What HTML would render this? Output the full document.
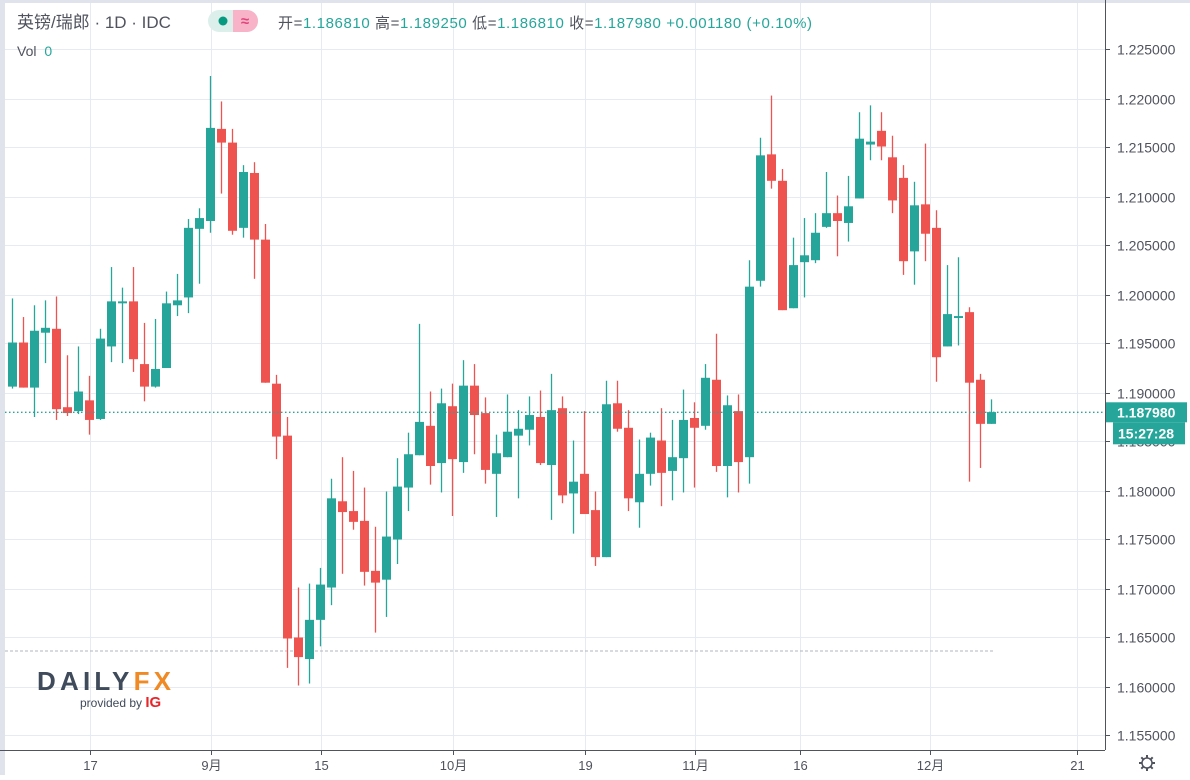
<!DOCTYPE html>
<html><head><meta charset="utf-8">
<style>
html,body{margin:0;padding:0;background:#fff;}
body{width:1190px;height:775px;overflow:hidden;position:relative;font-family:"Liberation Sans","Noto Sans CJK SC",sans-serif;}
svg text{font-family:"Liberation Sans","Noto Sans CJK SC",sans-serif;}
</style></head>
<body>
<svg id="chart" width="1190" height="775" viewBox="0 0 1190 775" xmlns="http://www.w3.org/2000/svg">
  <rect x="0" y="0" width="1190" height="775" fill="#fff"/>
  <rect x="0" y="0" width="5" height="775" fill="#e0e3eb"/>
  <rect x="0" y="0" width="1190" height="3" fill="#e0e3eb"/>
  <g id="grid"></g>
  <line x1="5" y1="651" x2="995" y2="651" stroke="#b2b5be" stroke-width="1" stroke-dasharray="3,2"/>
  <g id="candles"></g>
  <line id="lastline" x1="5" x2="1105" stroke="#26a69a" stroke-width="1.3" stroke-dasharray="1.5,2.5"/>
  <line x1="1105.5" y1="0" x2="1105.5" y2="750" stroke="#50535e" stroke-width="1"/>
  <line x1="0" y1="750.5" x2="1105" y2="750.5" stroke="#50535e" stroke-width="1"/>
  <g id="yaxis"></g>
  <g id="xaxis"></g>
  <g id="lastlabel"></g>
  <g transform="translate(1147,763)">
    <circle r="5" fill="none" stroke="#50535e" stroke-width="1.5"/>
    <g stroke="#50535e" stroke-width="2">
      <line x1="0" y1="-8" x2="0" y2="-5"/><line x1="0" y1="5" x2="0" y2="8"/>
      <line x1="-8" y1="0" x2="-5" y2="0"/><line x1="5" y1="0" x2="8" y2="0"/>
      <line x1="-5.7" y1="-5.7" x2="-3.5" y2="-3.5"/><line x1="3.5" y1="3.5" x2="5.7" y2="5.7"/>
      <line x1="-5.7" y1="5.7" x2="-3.5" y2="3.5"/><line x1="3.5" y1="-3.5" x2="5.7" y2="-5.7"/>
    </g>
  </g>
  <!-- header -->
  <text x="17" y="28" font-size="17" fill="#50535e">英镑/瑞郎 · 1D · IDC</text>
  <g>
    <rect x="208" y="10" width="50" height="22" rx="11" fill="#dcefeb"/>
    <path d="M233 10 h14 a11 11 0 0 1 0 22 h-14 z" fill="#f8b3c8"/>
    <circle cx="223" cy="21" r="4.5" fill="#089981"/>
    <text x="245" y="26" font-size="15" fill="#e0457b" text-anchor="middle" font-weight="bold">≈</text>
  </g>
  <text x="278" y="28" font-size="15" fill="#50535e" textLength="534" lengthAdjust="spacing">开=<tspan fill="#26a69a">1.186810</tspan> 高=<tspan fill="#26a69a">1.189250</tspan> 低=<tspan fill="#26a69a">1.186810</tspan> 收=<tspan fill="#26a69a">1.187980</tspan> <tspan fill="#26a69a">+0.001180 (+0.10%)</tspan></text>
  <text x="17" y="56" font-size="14" fill="#50535e">Vol <tspan dx="4" fill="#26a69a">0</tspan></text>
  <!-- logo -->
  <g>
    <text x="37" y="690" font-size="26" font-weight="bold" fill="#3f4a5a" textLength="134" lengthAdjust="spacing">DAILY<tspan fill="#f08a24">FX</tspan></text>
    <text x="80" y="707" font-size="12" fill="#3f4a5a">provided by <tspan font-weight="bold" fill="#e8262a" font-size="15">IG</tspan></text>
  </g>
</svg>
<script>
const opens=[1.1906,1.1951,1.1905,1.1961,1.1965,1.1885,1.1881,1.1892,1.1873,1.1947,1.1991,1.1993,1.1929,1.1906,1.1925,1.1989,1.1997,1.2067,1.2075,1.2169,1.2155,1.2068,1.2124,1.2056,1.1909,1.1856,1.1650,1.1628,1.1668,1.1701,1.1789,1.1779,1.1769,1.1718,1.1709,1.1750,1.1803,1.1836,1.1866,1.1828,1.1886,1.1829,1.1907,1.1879,1.1817,1.1834,1.1856,1.1862,1.1875,1.1826,1.1884,1.1797,1.1817,1.1780,1.1732,1.1889,1.1864,1.1788,1.1817,1.1851,1.1820,1.1833,1.1874,1.1866,1.1913,1.1825,1.1881,1.1834,1.2014,1.2143,1.2116,1.1986,1.2033,1.2035,1.2069,1.2083,1.2073,1.2098,1.2153,1.2167,1.2140,1.2119,1.2044,1.2092,1.2068,1.1947,1.1976,1.1982,1.1913,1.1868];
const highs=[1.1996,1.1977,1.1989,1.1994,1.1998,1.1938,1.1947,1.1917,1.1965,1.2028,1.2007,1.2028,1.1971,1.1975,1.2003,1.2021,1.2077,1.2088,1.2223,1.2197,1.2169,1.2132,1.2135,1.2072,1.1918,1.1875,1.1701,1.1705,1.1721,1.1812,1.1834,1.1820,1.1803,1.1763,1.1799,1.1833,1.1859,1.1970,1.1901,1.1904,1.1909,1.1933,1.1929,1.1895,1.1857,1.1898,1.1882,1.1896,1.1902,1.1919,1.1896,1.1851,1.1881,1.1799,1.1912,1.1912,1.1882,1.1852,1.1859,1.1884,1.1872,1.1903,1.1890,1.1929,1.1960,1.1897,1.1898,1.2035,1.2160,1.2203,1.2128,1.2058,1.2078,1.2083,1.2125,1.2101,1.2121,1.2186,1.2193,1.2186,1.2162,1.2132,1.2115,1.2154,1.2086,1.2030,1.2038,1.1987,1.1919,1.1893];
const lows=[1.1904,1.1905,1.1875,1.1930,1.1872,1.1876,1.1878,1.1857,1.1872,1.1931,1.1930,1.1921,1.1891,1.1905,1.1925,1.1978,1.1981,1.2011,1.2063,1.2103,1.2061,1.2058,1.2016,1.1910,1.1832,1.1619,1.1601,1.1603,1.1641,1.1683,1.1715,1.1760,1.1703,1.1655,1.1671,1.1725,1.1779,1.1836,1.1806,1.1798,1.1774,1.1818,1.1837,1.1807,1.1773,1.1834,1.1792,1.1846,1.1826,1.1770,1.1787,1.1756,1.1776,1.1723,1.1732,1.1860,1.1779,1.1762,1.1805,1.1784,1.1790,1.1798,1.1803,1.1862,1.1819,1.1793,1.1798,1.1807,1.2008,1.2108,1.1984,1.1986,1.1997,1.2032,1.2068,1.2039,1.2054,1.2098,1.2137,1.2137,1.2083,1.2020,1.2010,1.2034,1.1911,1.1947,1.1948,1.1809,1.1823,1.1868];
const closes=[1.1951,1.1905,1.1963,1.1966,1.1883,1.1879,1.1901,1.1872,1.1955,1.1993,1.1993,1.1934,1.1906,1.1924,1.1991,1.1994,1.2068,1.2078,1.2170,1.2155,1.2065,1.2125,1.2056,1.1910,1.1855,1.1649,1.1630,1.1668,1.1704,1.1792,1.1778,1.1768,1.1717,1.1706,1.1753,1.1804,1.1837,1.1870,1.1825,1.1889,1.1832,1.1907,1.1877,1.1821,1.1838,1.1860,1.1863,1.1877,1.1828,1.1882,1.1795,1.1809,1.1776,1.1732,1.1888,1.1863,1.1792,1.1817,1.1854,1.1818,1.1834,1.1872,1.1864,1.1915,1.1825,1.1887,1.1829,1.2008,1.2142,1.2116,1.1984,1.2030,1.2040,1.2063,1.2083,1.2075,1.2090,1.2159,1.2156,1.2151,1.2096,1.2034,1.2091,1.2062,1.1936,1.1980,1.1978,1.1910,1.1868,1.1880];
const priceTicks=[1.155,1.16,1.165,1.17,1.175,1.18,1.185,1.19,1.195,1.2,1.205,1.21,1.215,1.22,1.225];
const timeLabels=["17","9月","15","10月","19","11月","16","12月","21"];
const timeLabelIdx=[7,18,28,40,52,62,71.6,83.4,96.8];
const lastPrice=1.18798;
const lastTime="15:27:28";

const NS="http://www.w3.org/2000/svg";
function yS(p){return 98.5+(1.220-p)*9800;}
function xS(i){return 12.5+11*i;}
function mk(tag,attrs,parent){const e=document.createElementNS(NS,tag);for(const k in attrs)e.setAttribute(k,attrs[k]);parent.appendChild(e);return e;}
const grid=document.getElementById('grid'),cg=document.getElementById('candles'),ya=document.getElementById('yaxis'),xa=document.getElementById('xaxis');
priceTicks.forEach(p=>{
  const y=Math.round(yS(p))+0.5;
  const gl=mk('line',{x1:5,x2:1105,y1:y,y2:y,stroke:'#e6ebf1','stroke-width':1},grid);
  
  
  const t=mk('line',{x1:1105,x2:1110,y1:y,y2:y,stroke:'#50535e'},ya);
  
  
  const tx=mk('text',{x:1117,y:y+5,'font-size':14,fill:'#50535e'},ya);
  tx.textContent=p.toFixed(6);
  
  
});
timeLabels.forEach((l,k)=>{
  const x=Math.round(xS(timeLabelIdx[k]))+0.5;
  const gl=mk('line',{x1:x,x2:x,y1:3,y2:750,stroke:'#e6ebf1','stroke-width':1},grid);
  
  
  const t=mk('line',{x1:x,x2:x,y1:750,y2:755,stroke:'#50535e'},xa);
  
  
  const tx=mk('text',{x:x,y:770,'font-size':13,fill:'#50535e','text-anchor':'middle'},xa);
  tx.textContent=l;
  
  
});
for(let i=0;i<opens.length;i++){
  const up=closes[i]>=opens[i];const col=up?'#26a69a':'#ef5350';
  const x=xS(i);
  const g=mk('g',{},cg);
  
  
  mk('line',{x1:x,x2:x,y1:yS(highs[i]),y2:yS(lows[i]),stroke:col,'stroke-width':1.3},g);
  const top=yS(Math.max(opens[i],closes[i])),bot=yS(Math.min(opens[i],closes[i]));
  mk('rect',{x:x-4.5,y:top,width:9,height:Math.max(1.5,bot-top),fill:col},g);
}
const ly=yS(lastPrice);
const ll=document.getElementById('lastline');ll.setAttribute('y1',ly);ll.setAttribute('y2',ly);
const lb=document.getElementById('lastlabel');
mk('rect',{x:1106,y:ly-10,width:81,height:20,fill:'#26a69a'},lb);
const t1=mk('text',{x:1117,y:ly+5,'font-size':14,fill:'#fff','font-weight':'bold'},lb);t1.textContent=lastPrice.toFixed(6);


mk('rect',{x:1113,y:ly+10,width:72,height:22,fill:'#26a69a'},lb);
const t2=mk('text',{x:1118,y:ly+26,'font-size':14,fill:'#fff','font-weight':'bold'},lb);t2.textContent=lastTime;


</script>
</body></html>
